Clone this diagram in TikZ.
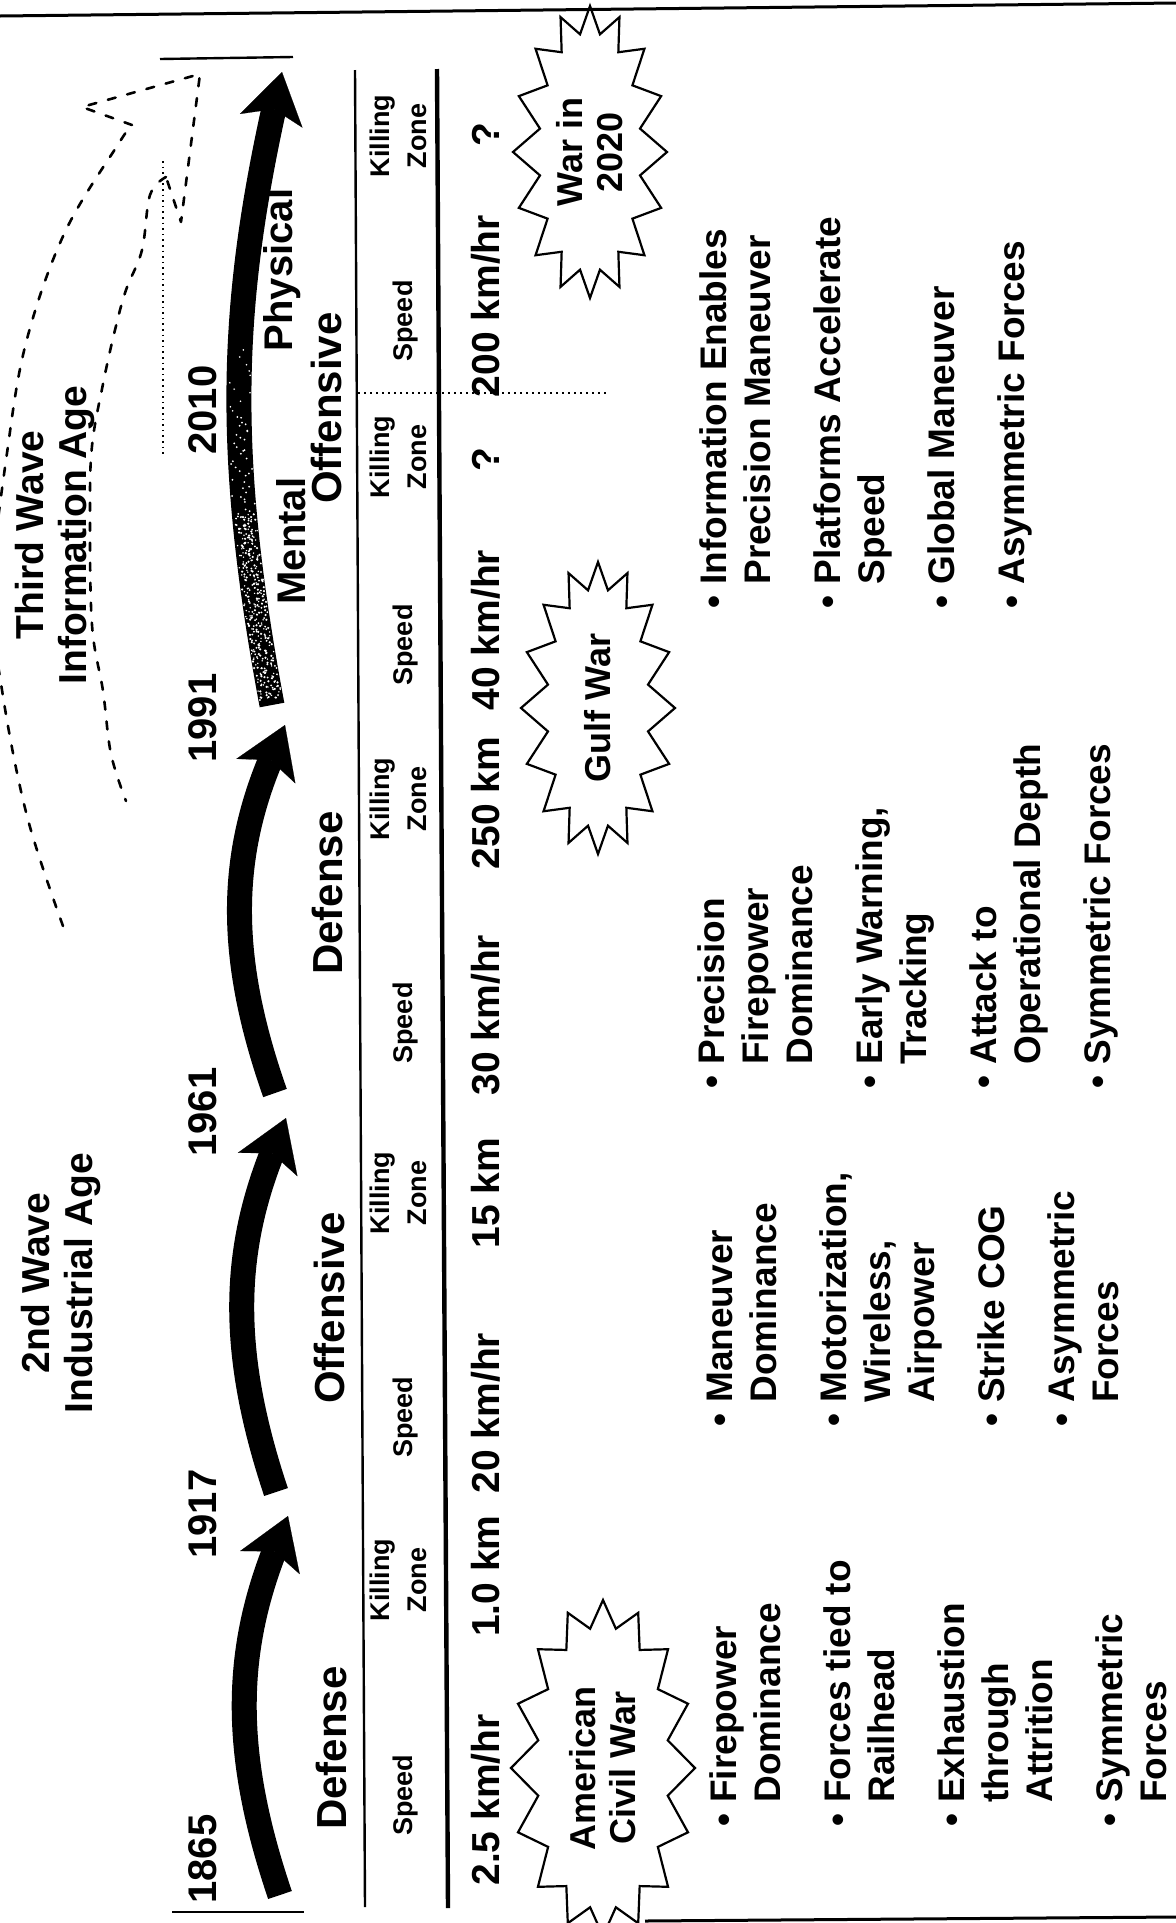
\documentclass[tikz,border=0pt]{standalone}
\usepackage{fontspec}
\setmainfont{Liberation Sans}
\usetikzlibrary{arrows.meta,shapes.symbols,decorations.markings}

\begin{document}
\begin{tikzpicture}[
  x=0.5pt, y=-0.5pt,
  yearlabel/.style={rotate=90, anchor=base, inner sep=0pt, font=\fontsize{20}{24}\selectfont\bfseries},
  posturelabel/.style={rotate=90, anchor=base, inner sep=0pt, font=\fontsize{21}{25}\selectfont\bfseries},
  wavelabel/.style={rotate=90, anchor=north, inner sep=0pt, align=center, font=\fontsize{19.5}{21.5}\selectfont\bfseries},
  colhead/.style={rotate=90, anchor=north, inner sep=0pt, align=center, font=\fontsize{13.5}{18.5}\selectfont\bfseries},
  cellvalue/.style={rotate=90, anchor=base, inner sep=0pt, font=\fontsize{19.5}{23}\selectfont\bfseries},
  bulletlist/.style={rotate=90, anchor=base west, inner sep=0pt, font=\fontsize{18.5}{22}\selectfont\bfseries},
  burst/.style={starburst, draw, line width=1.1pt, rotate=90, align=center, inner sep=0pt,
    starburst points=16, starburst point height=13pt, random starburst=0, font=\fontsize{18}{20}\selectfont\bfseries},
  eraarrow/.style={line width=12.5pt, -{Stealth[length=25pt, width=32pt, inset=6pt, line width=0.1pt]}},
  tablerule/.style={line width=1.2pt},
  wavedash/.style={line width=1.3pt, dash pattern=on 4pt off 6pt, line cap=round}
]
  \useasboundingbox (0,0) rectangle (1176,1923);
  \clip (0,0) rectangle (1176,1923);
  \pgfmathsetseed{7}

  % frame and table rules
  \draw[line width=1.5pt] (0,16) -- (1176,3);
  \draw[line width=1.5pt] (645,1921) -- (1176,1917);
  \draw[tablerule] (160,59) -- (293,57);
  \draw[tablerule] (172,1912) -- (304,1912);
  \draw[tablerule] (355,70) -- (365,1907);
  \draw[line width=2.2pt] (437,69) -- (448,1908);
  \draw[dotted, line width=1pt] (358,393) -- (606,393);

  % third wave (dashed arrow)
  \draw[wavedash] plot[smooth, tension=0.6] coordinates {(63,926) (27,816) (2,690) (-8,590) (8,446) (27,339) (65,232) (119,143) (132,125)};
  \draw[wavedash, line join=round] (132,125) -- (82,107) -- (200,74) -- (181,222) -- (166,177);
  \draw[wavedash] plot[smooth, tension=0.6] coordinates {(166,177) (150,195) (142,250) (126,290) (115,330) (103,384) (92,446) (90,513) (92,625) (103,691) (111,754) (126,801)};
  \draw[dotted, line width=0.8pt] (163,161) -- (163,455);

  % era arrows
  \coordinate (t1865) at (280,1895);
  \coordinate (h1917) at (288,1516);
  \coordinate (t1917) at (276,1492);
  \coordinate (h1961) at (286,1118);
  \coordinate (t1961) at (275,1093);
  \coordinate (h1991) at (285,725);
  \coordinate (t1991) at (272,705);
  \coordinate (h2020) at (282,72);
  \draw[eraarrow] (t1865) to[bend left=20] (h1917);
  \draw[eraarrow] (t1917) to[bend left=20] (h1961);
  \draw[eraarrow] (t1961) to[bend left=21] (h1991);
  \draw[eraarrow] (t1991) to[bend left=11.5] (h2020);
  % mottled tail of the information age arrow
  \path[decorate, decoration={markings,
      mark=between positions 0.01 and 0.3 step 0.8pt with {
        \fill[white] ({rand*0.5pt},{rand*5.6pt}) circle (0.6pt);
        \fill[white] ({rand*0.5pt},{rand*5.6pt}) circle (0.5pt);
        \fill[white] ({rand*0.5pt},{rand*5.6pt}) circle (0.4pt);},
      mark=between positions 0.3 and 0.45 step 1.4pt with {
        \fill[white] ({rand*0.8pt},{rand*5.6pt}) circle (0.5pt);},
      mark=between positions 0.45 and 0.56 step 3pt with {
        \fill[white] ({rand*1pt},{rand*5.6pt}) circle (0.45pt);}}]
    (t1991) to[bend left=11.5] (h2020);

  % years
  \node[yearlabel] (y1865) at (216,1859) {1865};
  \node[yearlabel] (y1917) at (216,1514) {1917};
  \node[yearlabel] (y1961) at (216,1112) {1961};
  \node[yearlabel] (y1991) at (216,718) {1991};
  \node[yearlabel] (y2010) at (216,410) {2010};

  % waves
  \node[wavelabel] (industrial) at (21,1283) {2nd Wave\\Industrial Age};
  \node[wavelabel] (information) at (15,535) {Third Wave\\Information Age};
  \node[rotate=90, anchor=north, inner sep=0pt, font=\fontsize{20}{24}\selectfont\bfseries] (mental) at (276,541) {Mental};
  \node[rotate=90, anchor=north, inner sep=0pt, font=\fontsize{20}{24}\selectfont\bfseries] (physical) at (263,270) {Physical};

  % postures
  \node[posturelabel] (defense1) at (346,1748) {Defense};
  \node[posturelabel] (offensive1) at (344,1308) {Offensive};
  \node[posturelabel] (defense2) at (342,893) {Defense};
  \node[posturelabel] (offensive2) at (341,408) {Offensive};

  % column heads
  \node[colhead] (speed1) at (393,1795) {Speed};
  \node[colhead] (zone1) at (370,1580) {Killing\\Zone};
  \node[colhead] (speed2) at (393,1417) {Speed};
  \node[colhead] (zone2) at (370,1193) {Killing\\Zone};
  \node[colhead] (speed3) at (393,1023) {Speed};
  \node[colhead] (zone3) at (370,799) {Killing\\Zone};
  \node[colhead] (speed4) at (393,645) {Speed};
  \node[colhead] (zone4) at (370,457) {Killing\\Zone};
  \node[colhead] (speed5) at (393,321) {Speed};
  \node[colhead] (zone5) at (370,136) {Killing\\Zone};

  % values
  \node[cellvalue] (v1) at (499,1800) {2.5 km/hr};
  \node[cellvalue] (v2) at (499,1576) {1.0 km};
  \node[cellvalue] (v3) at (499,1413) {20 km/hr};
  \node[cellvalue] (v4) at (499,1193) {15 km};
  \node[cellvalue] (v5) at (499,1015) {30 km/hr};
  \node[cellvalue] (v6) at (499,803) {250 km};
  \node[cellvalue] (v7) at (499,630) {40 km/hr};
  \node[cellvalue] (v8) at (499,460) {?};
  \node[cellvalue] (v9) at (499,306) {200 km/hr};
  \node[cellvalue] (v10) at (499,135) {?};

  % wars
  \node[burst, minimum width=168pt, minimum height=92pt] (civilwar) at (603,1768) {American\\Civil War};
  \node[burst, minimum width=146pt, minimum height=77pt] (gulfwar) at (598,708) {Gulf War};
  \node[burst, minimum width=146pt, minimum height=77pt] (war2020) at (590,152) {War in\\2020};

  % characteristics
  \node[bulletlist] (traits1865) at (736,1827) {\begin{tabular}[t]{@{}l@{\hspace{5.5pt}}l@{}}
    \textbullet & Firepower\\ & Dominance\\[13pt]
    \textbullet & Forces tied to\\ & Railhead\\[13pt]
    \textbullet & Exhaustion\\ & through\\ & Attrition\\[13pt]
    \textbullet & Symmetric\\ & Forces
  \end{tabular}};
  \node[bulletlist] (traits1917) at (732,1427) {\begin{tabular}[t]{@{}l@{\hspace{5.5pt}}l@{}}
    \textbullet & Maneuver\\ & Dominance\\[13pt]
    \textbullet & Motorization,\\ & Wireless,\\ & Airpower\\[13pt]
    \textbullet & Strike COG\\[13pt]
    \textbullet & Asymmetric\\ & Forces
  \end{tabular}};
  \node[bulletlist] (traits1961) at (724,1089) {\begin{tabular}[t]{@{}l@{\hspace{5.5pt}}l@{}}
    \textbullet & Precision\\ & Firepower\\ & Dominance\\[13pt]
    \textbullet & Early Warning,\\ & Tracking\\[13pt]
    \textbullet & Attack to\\ & Operational Depth\\[13pt]
    \textbullet & Symmetric Forces
  \end{tabular}};
  \node[bulletlist] (traits1991) at (726,609) {\begin{tabular}[t]{@{}l@{\hspace{5.5pt}}l@{}}
    \textbullet & Information Enables\\ & Precision Maneuver\\[13pt]
    \textbullet & Platforms Accelerate\\ & Speed\\[13pt]
    \textbullet & Global Maneuver\\[13pt]
    \textbullet & Asymmetric Forces
  \end{tabular}};
\end{tikzpicture}
\end{document}
